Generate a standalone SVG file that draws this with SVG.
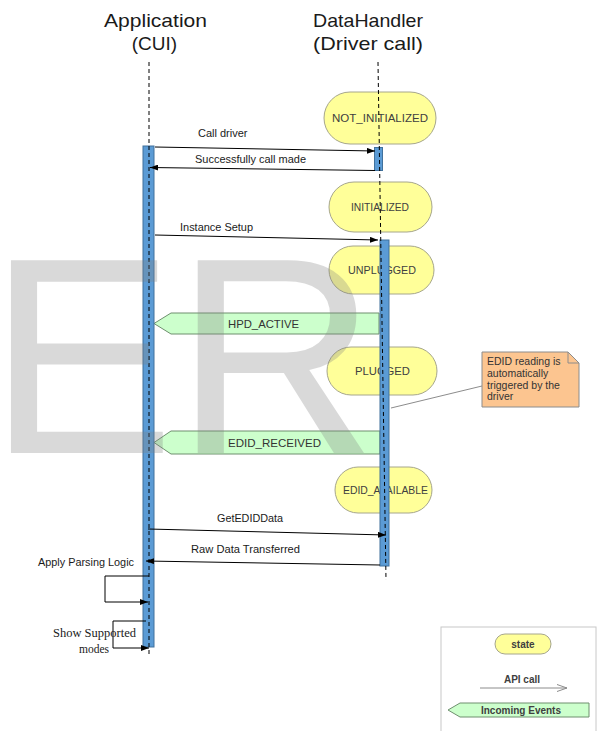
<svg xmlns="http://www.w3.org/2000/svg" width="599" height="731" viewBox="0 0 599 731">
  <defs>
    <marker id="arrowFilled" viewBox="0 0 8 6" refX="8" refY="3" markerWidth="8" markerHeight="6" markerUnits="userSpaceOnUse" orient="auto">
      <path d="M0,0 L8,3 L0,6 Z" fill="#000"/>
    </marker>
    <marker id="arrowOpen" viewBox="0 0 10 8" refX="10" refY="4" markerWidth="10" markerHeight="8" markerUnits="userSpaceOnUse" orient="auto">
      <path d="M0,0.5 L10,4 L0,7.5" fill="none" stroke="#8c8c8c" stroke-width="1"/>
    </marker>
    <style>
      .hdr { font-family: "Liberation Sans", Arial, sans-serif; font-size: 19px; fill: #1a1a1a; text-anchor: middle; }
      .lifeline { stroke: #000; stroke-width: 1; stroke-dasharray: 4 3; fill: none; }
      .bar { fill: #5b9bd5; stroke: #41719c; stroke-width: 1; }
      .state rect { fill: #ffff99; stroke: #a6a68c; stroke-width: 1; }
      .state text { font-family: "Liberation Sans", Arial, sans-serif; font-size: 11px; fill: #404040; text-anchor: middle; }
      .event path { fill: #ccffcc; stroke: #6f8f6f; stroke-width: 1; }
      .event text { font-family: "Liberation Sans", Arial, sans-serif; font-size: 11px; fill: #333; }
      .msg { stroke: #000; stroke-width: 1; fill: none; marker-end: url(#arrowFilled); }
      .lbl { font-family: "Liberation Sans", Arial, sans-serif; font-size: 11px; fill: #1a1a1a; }
      .serif { font-family: "Liberation Serif", "Times New Roman", serif; font-size: 11.5px; fill: #1a1a1a; }
      .note path { fill: #fcc590; stroke: #8c8c8c; stroke-width: 1; }
      .note text { font-family: "Liberation Sans", Arial, sans-serif; font-size: 10.5px; fill: #333; }
      .leg text { font-family: "Liberation Sans", Arial, sans-serif; font-weight: bold; font-size: 10px; fill: #404040; text-anchor: middle; }
      .watermark { font-family: "Liberation Sans", Arial, sans-serif; font-size: 280px; fill: #808080; fill-opacity: 0.3; }
    </style>
  </defs>

  <rect width="599" height="731" fill="#fff"/>

  <!-- participant headers -->
  <g id="hdr-application">
    <text class="hdr" x="155.5" y="27" textLength="103" lengthAdjust="spacingAndGlyphs">Application</text>
    <text class="hdr" x="154.5" y="50">(CUI)</text>
  </g>
  <g id="hdr-datahandler">
    <text class="hdr" x="368" y="27" textLength="110" lengthAdjust="spacingAndGlyphs">DataHandler</text>
    <text class="hdr" x="368" y="50" textLength="110" lengthAdjust="spacingAndGlyphs">(Driver call)</text>
  </g>

  <!-- driver states -->
  <g id="state-not-initialized" class="state">
    <rect x="324" y="92" width="112" height="52" rx="26"/>
    <text x="380" y="122" textLength="96" lengthAdjust="spacingAndGlyphs">NOT_INITIALIZED</text>
  </g>
  <g id="state-initialized" class="state">
    <rect x="329" y="182" width="103" height="50" rx="25"/>
    <text x="380" y="211" textLength="58" lengthAdjust="spacingAndGlyphs">INITIALIZED</text>
  </g>
  <g id="state-unplugged" class="state">
    <rect x="329" y="246" width="105" height="48" rx="24"/>
    <text x="382" y="274" textLength="68" lengthAdjust="spacingAndGlyphs">UNPLUGGED</text>
  </g>
  <g id="state-plugged" class="state">
    <rect x="327" y="347" width="110" height="48" rx="24"/>
    <text x="382.5" y="375" textLength="55" lengthAdjust="spacingAndGlyphs">PLUGGED</text>
  </g>
  <g id="state-edid-available" class="state">
    <rect x="335" y="467" width="97" height="46" rx="23"/>
    <text x="385.5" y="494" textLength="85" lengthAdjust="spacingAndGlyphs">EDID_AVAILABLE</text>
  </g>

  <!-- incoming events -->
  <g id="event-hpd-active" class="event">
    <path d="M154,323.5 L171,313 L379,313 L379,334 L171,334 Z"/>
    <text x="228" y="328" textLength="71" lengthAdjust="spacingAndGlyphs">HPD_ACTIVE</text>
  </g>
  <g id="event-edid-received" class="event">
    <path d="M154,442.5 L171,431 L380,431 L380,454 L171,454 Z"/>
    <text x="228" y="447" textLength="93" lengthAdjust="spacingAndGlyphs">EDID_RECEIVED</text>
  </g>

  <!-- lifelines and activations -->
  <g id="lifeline-application">
    <rect class="bar" x="143" y="146" width="11" height="501"/>
    <line class="lifeline" x1="149" y1="62" x2="149" y2="656"/>
  </g>
  <g id="lifeline-datahandler">
    <rect class="bar" x="374.5" y="147.5" width="8" height="23"/>
    <rect class="bar" x="380" y="240" width="9" height="326"/>
    <line class="lifeline" x1="378" y1="62" x2="386" y2="580"/>
  </g>

  <!-- annotation -->
  <g id="note-edid" class="note">
    <path d="M482,352 L568,352 L579,363 L579,407 L482,407 Z"/>
    <path d="M568,352 L568,363 L579,363" style="fill:none"/>
    <text x="487" y="365">EDID reading is</text>
    <text x="487" y="377">automatically</text>
    <text x="487" y="389">triggered by the</text>
    <text x="487" y="400">driver</text>
  </g>

  <!-- messages -->
  <g id="connectors">
    <line x1="482" y1="386" x2="391" y2="408" stroke="#8c8c8c" stroke-width="1"/>
    <line class="msg" x1="155" y1="147" x2="375" y2="151"/>
    <line class="msg" x1="375" y1="170.5" x2="150" y2="167.5"/>
    <line class="msg" x1="155" y1="235" x2="378" y2="240"/>
    <line class="msg" x1="148" y1="529" x2="386" y2="535"/>
    <line class="msg" x1="380" y1="565" x2="146" y2="561"/>
    <polyline class="msg" points="149,576 105,576 105,602 148,602"/>
    <polyline class="msg" points="146,621 113,621 113,648 149,648"/>
  </g>

  <!-- message labels -->
  <g id="message-labels">
    <text class="lbl" x="198" y="137">Call driver</text>
    <text class="lbl" x="195" y="163" textLength="111" lengthAdjust="spacingAndGlyphs">Successfully call made</text>
    <text class="lbl" x="180" y="231" textLength="73" lengthAdjust="spacingAndGlyphs">Instance Setup</text>
    <text class="lbl" x="217" y="522" textLength="66" lengthAdjust="spacingAndGlyphs">GetEDIDData</text>
    <text class="lbl" x="191" y="553" textLength="109" lengthAdjust="spacingAndGlyphs">Raw Data Transferred</text>
    <text class="lbl" x="38" y="566" textLength="96" lengthAdjust="spacingAndGlyphs">Apply Parsing Logic</text>
    <text class="serif" x="53" y="637" textLength="83" lengthAdjust="spacingAndGlyphs">Show Supported</text>
    <text class="serif" x="79" y="653">modes</text>
  </g>

  <!-- legend -->
  <g id="legend" class="leg">
    <rect x="441" y="627" width="155" height="110" fill="#fff" stroke="#c8c8c8" stroke-width="1"/>
    <rect x="495" y="634" width="56" height="20" rx="10" fill="#ffff99" stroke="#a6a68c" stroke-width="1"/>
    <text x="523" y="648">state</text>
    <text x="522" y="683">API call</text>
    <line x1="480" y1="688" x2="567" y2="688" stroke="#8c8c8c" stroke-width="1" marker-end="url(#arrowOpen)"/>
    <path d="M448,710 L460,703 L589,703 L589,717 L460,717 Z" fill="#ccffcc" stroke="#6f8f6f" stroke-width="1"/>
    <text x="521" y="714">Incoming Events</text>
  </g>

  <!-- draft overlay -->
  <text class="watermark" x="-12" y="453">ER</text>
</svg>
